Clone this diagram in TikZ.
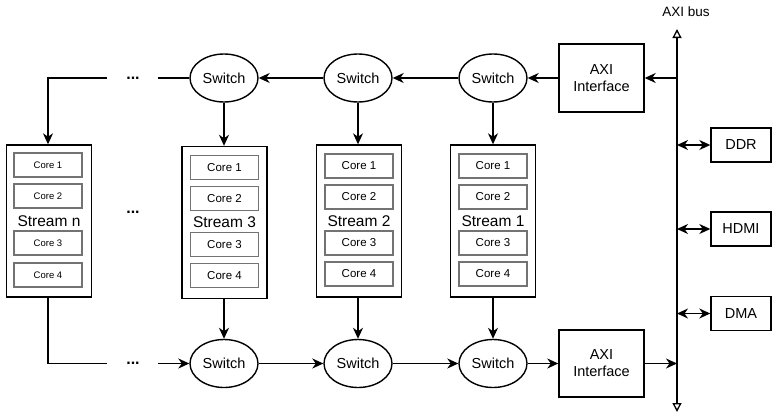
\documentclass[tikz,border=0pt]{standalone}
\usepackage{fontspec}
\setmainfont{Liberation Sans}
\usetikzlibrary{arrows.meta,shapes.geometric}
\begin{document}
\begin{tikzpicture}[x=1pt,y=-1pt,
  line width=1.4pt,
  arr/.style={-{Stealth[length=11pt,width=10pt,inset=3.5pt]}},
  darr/.style={{Stealth[length=11pt,width=10pt,inset=3.5pt]}-{Stealth[length=11pt,width=10pt,inset=3.5pt]}},
  sw/.style={draw,ellipse,minimum width=68pt,minimum height=48pt,inner sep=0pt,font=\fontsize{14.5}{16}\selectfont},
  box/.style={draw,rectangle,inner sep=0pt,align=center,font=\fontsize{14.5}{17}\selectfont},
  strm/.style={draw,rectangle,minimum width=85pt,minimum height=152pt,inner sep=0pt},
  core/.style={draw=black!55,line width=1.1pt,rectangle,minimum width=68pt,minimum height=24pt,inner sep=0pt,font=\fontsize{11.5}{13}\selectfont},
  smallcore/.style={core,font=\fontsize{9.5}{11}\selectfont},
  lbl/.style={font=\fontsize{15.5}{17}\selectfont,inner sep=0pt},
  dots/.style={font=\fontsize{16}{18}\selectfont\bfseries,inner sep=0pt}
]
\useasboundingbox (0,0) rectangle (772,413);

% AXI bus
\node[font=\fontsize{13.5}{15}\selectfont,inner sep=0pt] (buslbl) at (686,12) {AXI bus};
\coordinate (bustop) at (677,29);
\coordinate (busbot) at (677,412);
\draw[{Triangle[open,length=9pt,width=9pt,line width=1.3pt]}-{Triangle[open,length=9pt,width=9pt,line width=1.3pt]}] (bustop) -- (busbot);

% AXI interfaces
\node[box,minimum width=85pt,minimum height=68pt] (axitop) at (601.5,78) {AXI\\Interface};
\node[box,minimum width=85pt,minimum height=67pt] (axibot) at (601.5,363.5) {AXI\\Interface};

% peripherals
\node[box,minimum width=60pt,minimum height=34pt] (ddr) at (741,145) {DDR};
\node[box,minimum width=60pt,minimum height=34pt] (hdmi) at (741,229) {HDMI};
\node[box,minimum width=60pt,minimum height=34pt] (dma) at (741,313.5) {DMA};
\coordinate (bddr) at (677,145);
\coordinate (bhdmi) at (677,229);
\coordinate (bdma) at (677,313.5);
\coordinate (btop) at (677,78);
\coordinate (bbot) at (677,363.5);
\draw[darr] (bddr) -- (ddr.west);
\draw[darr] (bhdmi) -- (hdmi.west);
\draw[darr] (bdma) -- (dma.west);

% switches
\node[sw] (s1t) at (493,78) {Switch};
\node[sw] (s2t) at (358,78) {Switch};
\node[sw] (s3t) at (224,78) {Switch};
\node[sw] (s1b) at (493,363.5) {Switch};
\node[sw] (s2b) at (358,363.5) {Switch};
\node[sw] (s3b) at (224,363.5) {Switch};

% streams
\foreach \nm/\x/\y/\lab in {st1/493/221/Stream 1, st2/359/221/Stream 2, st3/224.5/222.5/Stream 3}{
  \node[strm] (\nm) at (\x,\y) {};
  \node[core] (\nm c1) at (\x,\y-55) {Core 1};
  \node[core] (\nm c2) at (\x,\y-24) {Core 2};
  \node[lbl] (\nm l) at (\x,\y) {\lab};
  \node[core] (\nm c3) at (\x,\y+22) {Core 3};
  \node[core] (\nm c4) at (\x,\y+53) {Core 4};
}
\node[strm] (stn) at (49,221) {};
\node[smallcore] (stnc1) at (48,165) {Core 1};
\node[smallcore] (stnc2) at (48,196) {Core 2};
\node[lbl] (stnl) at (49,221.5) {Stream n};
\node[smallcore] (stnc3) at (48,243) {Core 3};
\node[smallcore] (stnc4) at (48,275) {Core 4};

% dots
\node[dots] (dt) at (133,78) {...};
\node[dots] (dm) at (133,212) {...};
\node[dots] (db) at (133,363) {...};
\coordinate (tl1) at (158,78);
\coordinate (tl2) at (107,78);
\coordinate (tc) at (48,78);
\coordinate (bl1) at (158,363.5);
\coordinate (bl2) at (107,363.5);
\coordinate (bc) at (48,363.5);

% top row connectors
\draw[arr] (btop) -- (axitop.east);
\draw[arr] (axitop.west) -- (s1t.east);
\draw[arr] (s1t.west) -- (s2t.east);
\draw[arr] (s2t.west) -- (s3t.east);
\draw (s3t.west) -- (tl1);
\draw[arr] (tl2) -- (tc) -- (stn.north -| tc);
\draw[arr] (s1t.south) -- (st1.north);
\draw[arr] (s2t.south) -- (st2.north -| s2t.south);
\draw[arr] (s3t.south) -- (st3.north -| s3t.south);

% bottom row connectors
\draw[arr] (st1.south) -- (s1b.north);
\draw[arr] (st2.south -| s2b.north) -- (s2b.north);
\draw[arr] (st3.south -| s3b.north) -- (s3b.north);
\draw (stn.south -| bc) -- (bc) -- (bl2);
\draw[arr] (bl1) -- (s3b.west);
\draw[arr] (s3b.east) -- (s2b.west);
\draw[arr] (s2b.east) -- (s1b.west);
\draw[arr] (s1b.east) -- (axibot.west);
\draw[arr] (axibot.east) -- (bbot);
\end{tikzpicture}
\end{document}
